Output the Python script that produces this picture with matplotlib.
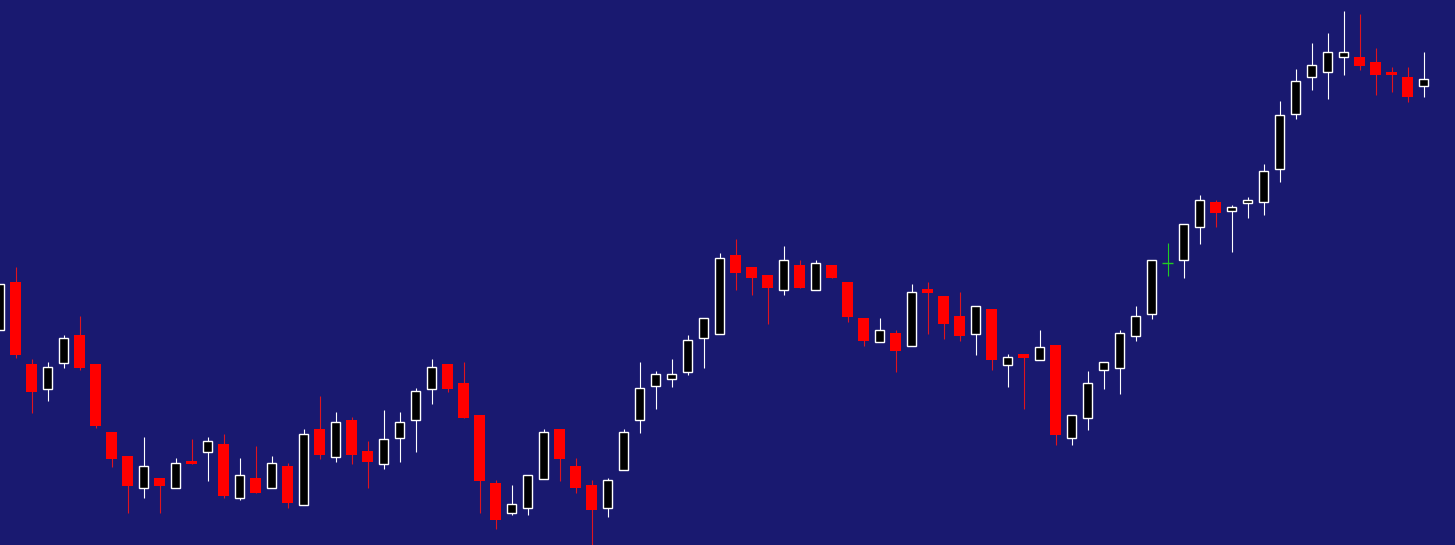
import numpy as np
import matplotlib
matplotlib.use("Agg")
import matplotlib.pyplot as plt

# price values (arbitrary units, one bar per period)
opens = [215, 263, 181, 156, 182, 210, 181, 113, 89, 57,
         67, 57, 84, 93, 101, 47, 67, 57, 79, 40,
         116, 88, 125, 94, 81, 107, 125, 156, 181, 162,
         130, 62, 32, 37, 66, 116, 79, 60, 37, 75,
         125, 159, 166, 173, 207, 211, 290, 278, 270, 255,
         280, 255, 280, 263, 227, 203, 212, 199, 256, 249,
         229, 211, 236, 180, 191, 185, 200, 107, 127, 175,
         177, 209, 231, 282, 285, 318, 343, 334, 342, 343,
         376, 431, 468, 473, 488, 488, 483, 473, 468, 459]
highs = [261, 278, 186, 183, 210, 229, 181, 113, 89, 108,
         67, 87, 106, 108, 111, 87, 99, 89, 82, 116,
         149, 133, 128, 104, 135, 133, 157, 186, 181, 183,
         130, 65, 60, 70, 116, 116, 87, 65, 67, 116,
         183, 174, 186, 210, 227, 292, 306, 278, 270, 299,
         285, 285, 280, 263, 227, 227, 215, 261, 263, 249,
         253, 239, 236, 191, 191, 215, 200, 130, 174, 183,
         215, 239, 285, 302, 321, 350, 345, 340, 348, 381,
         444, 476, 502, 512, 534, 531, 497, 478, 478, 493]
lows = [215, 187, 132, 144, 177, 175, 117, 78, 32, 47,
        32, 57, 81, 64, 47, 45, 52, 57, 37, 40,
        86, 83, 81, 57, 76, 83, 93, 141, 153, 127,
        32, 16, 30, 30, 66, 64, 52, -5, 28, 75,
        112, 136, 158, 170, 177, 211, 255, 250, 221, 250,
        257, 255, 267, 223, 199, 203, 173, 199, 211, 206,
        204, 190, 175, 158, 136, 185, 100, 100, 115, 156,
        151, 204, 226, 269, 267, 301, 318, 293, 327, 330,
        363, 426, 455, 446, 470, 475, 450, 453, 443, 448]
closes = [261, 190, 153, 178, 207, 177, 119, 86, 59, 79,
          59, 82, 81, 104, 49, 70, 52, 82, 42, 111,
          90, 123, 90, 83, 106, 123, 154, 178, 156, 127,
          64, 25, 41, 70, 113, 86, 57, 35, 65, 113,
          157, 171, 171, 205, 227, 287, 272, 267, 257, 285,
          257, 282, 267, 228, 204, 215, 194, 253, 252, 221,
          209, 239, 185, 188, 187, 198, 110, 130, 162, 183,
          212, 229, 285, 282, 321, 345, 332, 338, 345, 374,
          430, 464, 480, 493, 493, 479, 470, 470, 448, 466]

BG = "#191970"
UP_EDGE = "white"
DOWN = "#ff0000"
DOWN_WICK = "#e0141e"
DOJI = "#22cc22"


def draw_candles(ax, o, h, l, c, width=0.66):
    o, h, l, c = map(np.asarray, (o, h, l, c))
    x = np.arange(len(o))
    up = c > o
    down = c < o
    flat = c == o

    ax.vlines(x[up], l[up], h[up], color=UP_EDGE, linewidth=0.8, zorder=1)
    ax.vlines(x[down], l[down], h[down], color=DOWN_WICK, linewidth=0.8, zorder=1)
    ax.vlines(x[flat], l[flat], h[flat], color=DOJI, linewidth=0.8, zorder=1)

    ax.bar(x[up], (c - o)[up], bottom=o[up], width=width - 0.05,
           color="black", edgecolor=UP_EDGE, linewidth=1.0, zorder=2)
    ax.bar(x[down], (o - c)[down], bottom=c[down], width=width,
           color=DOWN, edgecolor="none", zorder=2)
    ax.hlines(o[flat], x[flat] - width / 2, x[flat] + width / 2,
              color=DOJI, linewidth=1.0, zorder=2)


fig = plt.figure(figsize=(14.55, 5.45), dpi=100, facecolor=BG)
ax = fig.add_axes([0, 0, 1, 1])
ax.set_facecolor(BG)

draw_candles(ax, opens, highs, lows, closes)

ax.set_xlim(0.03, 0.03 + 1455 / 16)
ax.set_ylim(0, 545)
ax.axis("off")

fig.savefig("out.png", dpi=100, facecolor=BG)
